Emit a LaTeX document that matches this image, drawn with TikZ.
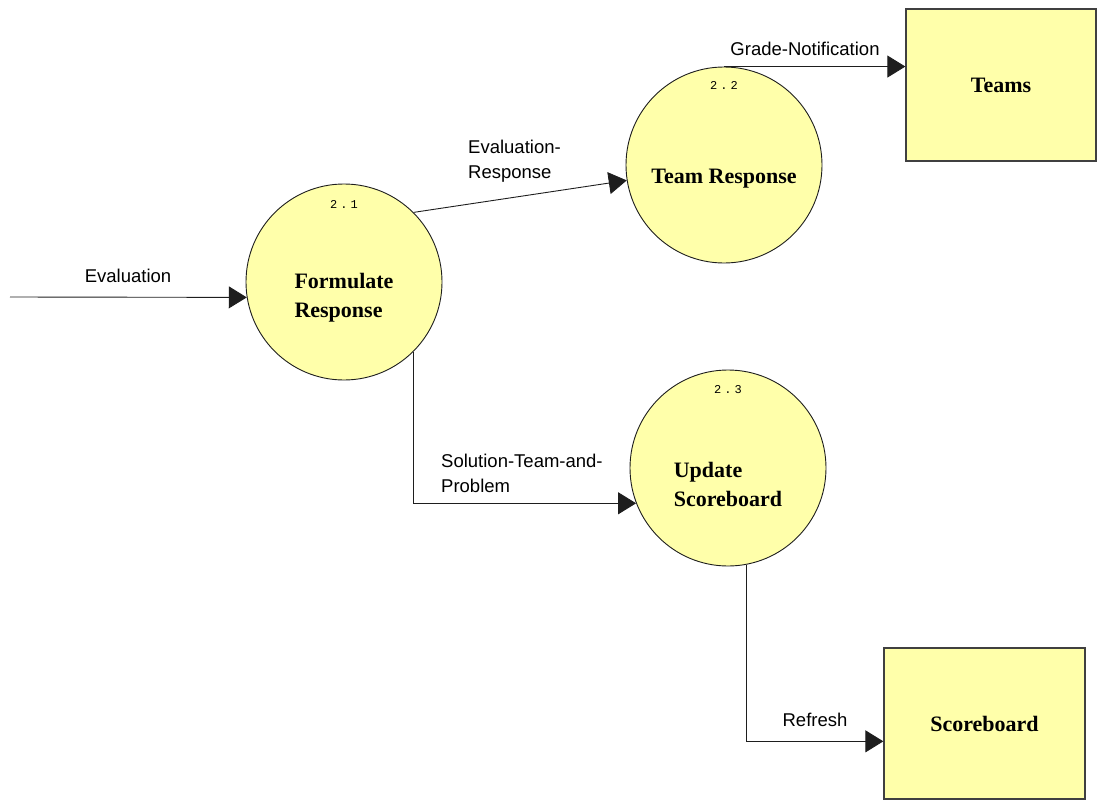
\documentclass[tikz,border=0pt]{standalone}
\usepackage{fontspec}
\setmainfont{Liberation Serif}
\setsansfont{Liberation Sans}
\newfontfamily\numfont[LetterSpace=25]{Liberation Mono}
\usepackage{tikz}
\usetikzlibrary{arrows.meta,shapes,positioning}
\definecolor{procyellow}{RGB}{255,255,170}
\definecolor{linegray}{RGB}{30,30,30}

\begin{document}
\begin{tikzpicture}[x=1pt,y=-1pt]
          \useasboundingbox (0,0) rectangle (1097,800);
          \tikzstyle{process}=[circle, draw=linegray, line width=0.9pt, fill=procyellow, minimum size=196pt, inner sep=0pt]
          \tikzstyle{store}=[rectangle, draw=black!75, line width=1.3pt, fill=procyellow, inner sep=0pt]
          \tikzstyle{proctext}=[font=\bfseries\fontsize{22}{29}\selectfont, align=left, inner sep=0pt]
          \tikzstyle{procnum}=[font=\numfont\fontsize{12}{12}\selectfont, inner sep=0pt]
          \tikzstyle{flowtext}=[font=\sffamily\fontsize{18.5}{25}\selectfont, align=left, inner sep=0pt]
          \tikzstyle{flow}=[draw=linegray, line width=0.9pt, -{Triangle[length=18pt,width=22pt]}]
          \tikzstyle{every edge}=[flow]

          % processes
          \node[process] (FR) at (344,282) {};
          \node[process] (TR) at (724,165) {};
          \node[process] (UP) at (728,468) {};

          \node[procnum] (FRn) at ([yshift=-21pt]FR.north) {2.1};
          \node[procnum] (TRn) at ([yshift=-19pt]TR.north) {2.2};
          \node[procnum] (UPn) at ([yshift=-20pt]UP.north) {2.3};

          \node[proctext] (FRt) at ([yshift=-16pt]FR.center) {Formulate\\Response};
          \node[proctext] (TRt) at ([yshift=-14pt]TR.center) {Team Response};
          \node[proctext] (UPt) at ([yshift=-16pt]UP.center) {Update\\Scoreboard};

          % stores
          \node[store, minimum width=190pt, minimum height=152pt] (TM) at (1001,85) {};
          \node[store, minimum width=201pt, minimum height=151pt] (SB) at (984.5,723.5) {};
          \node[proctext] (TMt) at (TM.center) {Teams};
          \node[proctext] (SBt) at (SB.center) {Scoreboard};

          % flows
          \coordinate (EVin) at (10,297);
          \path (EVin) edge (FR.189);
          \path (FR.45) edge (TR.189);
          \draw[flow] (TR.north) -- (TR.north -| TM.west);
          \draw[flow] (FR.-45) |- (UP.201);
          \draw[flow] (UP.-79) |- (SB.190);

          % flow labels
          \node[flowtext] (EVl) at (128,276) {Evaluation};
          \node[flowtext, anchor=west] (ERl) at (468,161) {Evaluation-\\Response};
          \node[flowtext] (GNl) at (805,49) {Grade-Notification};
          \node[flowtext, anchor=west] (STl) at (441,473) {Solution-Team-and-\\Problem};
          \node[flowtext] (RFl) at (815,720) {Refresh};
\end{tikzpicture}
\end{document}
